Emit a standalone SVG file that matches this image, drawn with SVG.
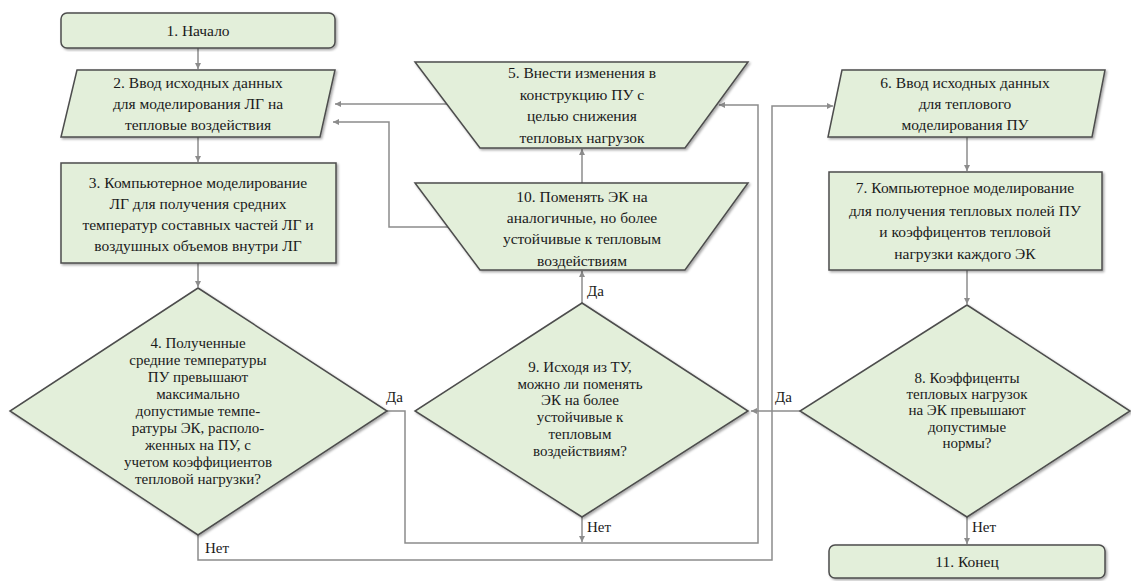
<svg xmlns="http://www.w3.org/2000/svg" width="1131" height="581" viewBox="0 0 1131 581">
<defs>
<style>
.n{fill:#e3efda;stroke:#4d4d4d;stroke-width:1.5;filter:url(#sh)}
.t{font-size:15.5px;fill:#1a1a1a;text-anchor:middle}
.d{font-size:15px}
.l{font-size:15px;fill:#1a1a1a}
.c{fill:none;stroke:#8c8c8c;stroke-width:1.5;marker-end:url(#ar)}
</style>
<filter id="sh" x="-5%" y="-5%" width="110%" height="115%">
<feDropShadow dx="1.5" dy="1.5" stdDeviation="1" flood-color="#000" flood-opacity="0.35"/>
</filter>
<marker id="ar" markerWidth="8" markerHeight="8" refX="6" refY="3" orient="auto" markerUnits="userSpaceOnUse">
<path d="M0,0 L6,3 L0,6 z" fill="#8c8c8c"/>
</marker>
</defs>
<rect width="1131" height="581" fill="#fff"/>
<g id="connectors">
<path class="c" d="M198 48 V69"/>
<path class="c" d="M198 137 V162"/>
<path class="c" d="M198 263 V287"/>
<path class="c" d="M387 411 H405 V543 H758 V105 H719"/>
<path class="c" d="M582 517 V542"/>
<path class="c" d="M582 303 V271"/>
<path class="c" d="M582 183 V149"/>
<path class="c" d="M447 104 H335"/>
<path class="c" d="M448 227 H389 V122 H333"/>
<path class="c" d="M198 535 V560 H772 V106 H833"/>
<path class="c" d="M967 137 V171"/>
<path class="c" d="M967 270 V304"/>
<path class="c" d="M800 411 H751"/>
<path class="c" d="M967 517 V544"/>
</g>
<g font-family="Liberation Serif, Times New Roman, serif">
<g id="node1">
<rect class="n" x="61" y="13" width="274" height="35" rx="6"/>
<text class="t" x="198" y="36">1. Начало</text>
</g>
<g id="node2">
<polygon class="n" points="77,70 335,70 320,137 61,137"/>
<text class="t" x="198" y="88">2. Ввод исходных данных</text>
<text class="t" x="198" y="109">для моделирования ЛГ на</text>
<text class="t" x="198" y="130">тепловые воздействия</text>
</g>
<g id="node3">
<rect class="n" x="61" y="163" width="275" height="100"/>
<text class="t" x="198" y="188">3. Компьютерное моделирование</text>
<text class="t" x="198" y="209">ЛГ для получения средних</text>
<text class="t" x="198" y="230">температур составных частей ЛГ и</text>
<text class="t" x="198" y="251">воздушных объемов внутри ЛГ</text>
</g>
<g id="node4">
<polygon class="n" points="198,288 387,411 198,535 10,411"/>
<text class="t d" x="198" y="348">4. Полученные</text>
<text class="t d" x="198" y="365">средние температуры</text>
<text class="t d" x="198" y="382">ПУ превышают</text>
<text class="t d" x="198" y="399">максимально</text>
<text class="t d" x="198" y="416">допустимые темпе-</text>
<text class="t d" x="198" y="433">ратуры ЭК, располо-</text>
<text class="t d" x="198" y="450">женных на ПУ, с</text>
<text class="t d" x="198" y="467">учетом коэффициентов</text>
<text class="t d" x="198" y="484">тепловой нагрузки?</text>
</g>
<g id="node5">
<polygon class="n" points="415,62 748,62 685,148 480,148"/>
<text class="t" x="582" y="78">5. Внести  изменения в</text>
<text class="t" x="582" y="100">конструкцию ПУ с</text>
<text class="t" x="582" y="121">целью снижения</text>
<text class="t" x="582" y="143">тепловых нагрузок</text>
</g>
<g id="node10">
<polygon class="n" points="415,183 748,183 685,270 480,270"/>
<text class="t" x="582" y="202">10. Поменять ЭК на</text>
<text class="t" x="582" y="223">аналогичные, но более</text>
<text class="t" x="582" y="244">устойчивые к тепловым</text>
<text class="t" x="582" y="266">воздействиям</text>
</g>
<g id="node9">
<polygon class="n" points="582,303 748,411 582,517 415,411"/>
<text class="t d" x="580" y="372">9. Исходя из ТУ,</text>
<text class="t d" x="580" y="389">можно ли поменять</text>
<text class="t d" x="580" y="405">ЭК на более</text>
<text class="t d" x="580" y="422">устойчивые к</text>
<text class="t d" x="580" y="439">тепловым</text>
<text class="t d" x="580" y="456">воздействиям?</text>
</g>
<g id="node6">
<polygon class="n" points="842,70 1105,70 1092,137 828,137"/>
<text class="t" x="965" y="88">6. Ввод исходных данных</text>
<text class="t" x="965" y="109">для теплового</text>
<text class="t" x="965" y="130">моделирования ПУ</text>
</g>
<g id="node7">
<rect class="n" x="829" y="172" width="273" height="98"/>
<text class="t" x="965" y="193">7. Компьютерное моделирование</text>
<text class="t" x="965" y="216">для получения тепловых полей ПУ</text>
<text class="t" x="965" y="237">и коэффицентов тепловой</text>
<text class="t" x="965" y="259">нагрузки каждого ЭК</text>
</g>
<g id="node8">
<polygon class="n" points="967,305 1130,411 967,517 800,411"/>
<text class="t d" x="967" y="383">8. Коэффиценты</text>
<text class="t d" x="967" y="399">тепловых нагрузок</text>
<text class="t d" x="967" y="415">на ЭК превышают</text>
<text class="t d" x="967" y="432">допустимые</text>
<text class="t d" x="967" y="448">нормы?</text>
</g>
<g id="node11">
<rect class="n" x="829" y="545" width="276" height="33" rx="6"/>
<text class="t" x="967" y="567">11. Конец</text>
</g>
<g id="labels">
<text class="l" x="386" y="402">Да</text>
<text class="l" x="205" y="553">Нет</text>
<text class="l" x="587" y="296">Да</text>
<text class="l" x="587" y="532">Нет</text>
<text class="l" x="775" y="402">Да</text>
<text class="l" x="972" y="532">Нет</text>
</g>
</g>
</svg>
